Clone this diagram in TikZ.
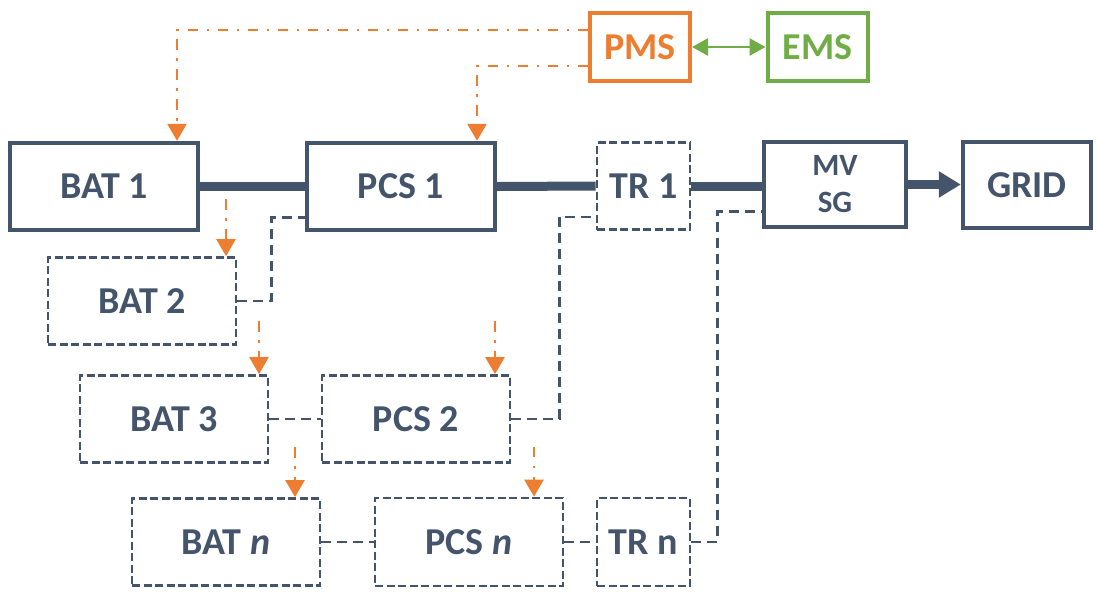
\documentclass[tikz,border=0pt]{standalone}
\usepackage{fontspec}
\setmainfont{Carlito}
\usetikzlibrary{arrows.meta,calc}
\definecolor{slate}{HTML}{44546A}
\definecolor{orng}{HTML}{ED7D31}
\definecolor{grn}{HTML}{70AD47}
\begin{document}
\begin{tikzpicture}[x=1pt,y=-1pt,
  solidbox/.style={draw=slate, line width=4.4pt, inner sep=0pt, text=slate,
    font=\fontsize{38}{42}\selectfont\bfseries},
  dashbox/.style={draw=slate, line width=2.7pt, dash pattern=on 8pt off 3.5pt,
    inner sep=0pt, text=slate, font=\fontsize{38}{42}\selectfont\bfseries},
  batsize/.style={minimum width=188pt, minimum height=87pt},
  trsize/.style={minimum width=93pt, minimum height=87pt},
  ctrlbox/.style={line width=4pt, inner sep=0pt, minimum width=100pt,
    minimum height=68pt, font=\fontsize{38}{42}\selectfont\bfseries},
  powerline/.style={draw=slate, line width=9pt},
  dashline/.style={draw=slate, line width=2.7pt, dash pattern=on 10pt off 6pt},
  ctrlarrow/.style={draw=orng, line width=2.5pt,
    dash pattern=on 10.5pt off 8.5pt on 2.5pt off 8.5pt,
    -{Triangle[length=17pt,width=19pt]}},
  commarrow/.style={draw=grn, line width=2.7pt,
    {Triangle[length=16pt,width=17pt]}-{Triangle[length=16pt,width=17pt]}}
]
\useasboundingbox (0,0) rectangle (1097,592);

% top row
\node[solidbox, batsize] (bat1) at (104,186.5) {BAT 1};
\node[solidbox, batsize] (pcs1) at (401,186.5) {PCS 1};
\node[dashbox, trsize] (tr1) at (643.5,186) {TR 1};
\node[solidbox, minimum width=142pt, minimum height=85pt, align=center,
      font=\fontsize{31}{37}\selectfont\bfseries] (mvsg) at (835,184.5) {MV\\SG};
\node[solidbox, minimum width=128pt, minimum height=86pt] (grid) at (1027,185) {GRID};

% control
\node[ctrlbox, draw=orng, text=orng] (pms) at (640,47) {PMS};
\node[ctrlbox, draw=grn, text=grn] (ems) at (817.5,47) {EMS};

% lower rows
\node[dashbox, batsize] (bat2) at (142,301) {BAT 2};
\node[dashbox, batsize] (bat3) at (174,419) {BAT 3};
\node[dashbox, minimum width=188pt, minimum height=87pt] (pcs2) at (416,419) {PCS 2};
\node[dashbox, batsize] (batn) at (226,542) {BAT \textit{n}};
\node[dashbox, minimum width=188pt, minimum height=88pt] (pcsn) at (469,542) {PCS \textit{n}};
\node[dashbox, minimum width=93pt, minimum height=88pt] (trn) at (643.5,542) {TR n};

% power lines
\draw[powerline] (bat1.east) -- (pcs1.west);
\draw[powerline] (pcs1.east) -- (tr1.west);
\draw[powerline] (tr1.east) -- (tr1.east -| mvsg.west);
\draw[powerline, -{Triangle[length=22pt,width=25pt]}] (mvsg.east) -- (mvsg.east -| grid.west);

% dashed power links
\draw[dashline] (bat2.east) -| ($(pcs1.west)+(-33,31)$) -- ($(pcs1.west)+(0,31)$);
\draw[dashline] (bat3.east) -- (pcs2.west);
\draw[dashline] (pcs2.east) -| ($(tr1.west)+(-36,31)$) -- ($(tr1.west)+(0,31)$);
\draw[dashline] (batn.east) -- (pcsn.west);
\draw[dashline] (pcsn.east) -- (trn.west);
\draw[dashline] (trn.east) -| ($(mvsg.west)+(-44,27)$) -- ($(mvsg.west)+(0,27)$);

% communication
\draw[commarrow] (pms.east) -- (ems.west);

% control arrows
\draw[ctrlarrow] ($(pms.west)+(0,-17)$) -| ($(bat1.north)+(73,0)$);
\draw[ctrlarrow] ($(pms.west)+(0,19)$) -| ($(pcs1.north)+(76,0)$);
\draw[ctrlarrow] ($(bat2.north)+(84,-57)$) -- ($(bat2.north)+(84,0)$);
\draw[ctrlarrow] ($(bat3.north)+(85,-53)$) -- ($(bat3.north)+(85,0)$);
\draw[ctrlarrow] ($(pcs2.north)+(79,-53)$) -- ($(pcs2.north)+(79,0)$);
\draw[ctrlarrow] ($(batn.north)+(69,-50)$) -- ($(batn.north)+(69,0)$);
\draw[ctrlarrow] ($(pcsn.north)+(65,-50)$) -- ($(pcsn.north)+(65,0)$);
\end{tikzpicture}
\end{document}
